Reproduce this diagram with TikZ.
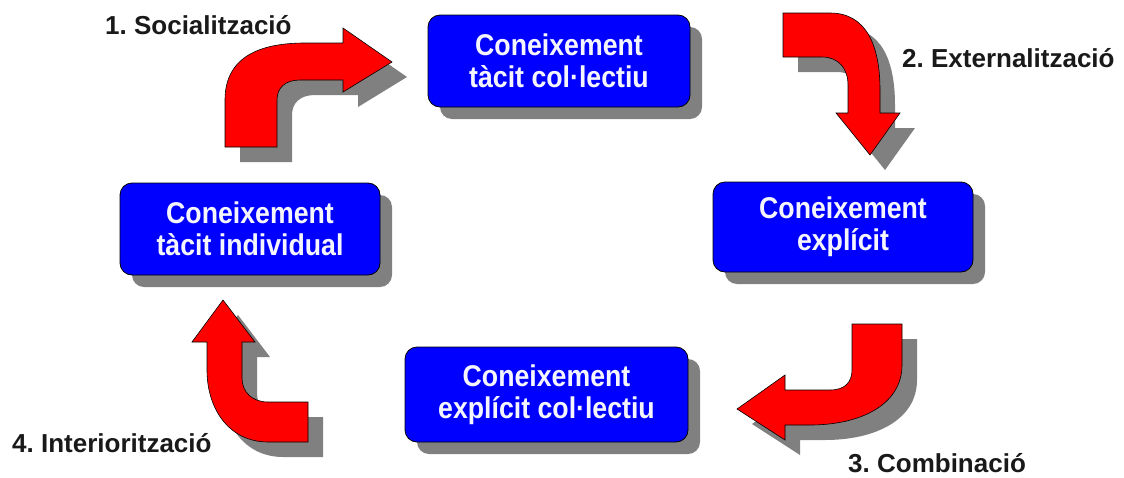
\documentclass[tikz,border=0pt]{standalone}
\usepackage{fontspec}
\setmainfont{Liberation Sans}
\newfontfamily\boxfont[FakeStretch=0.89]{Liberation Sans}
\usetikzlibrary{shadows}
\frenchspacing
\definecolor{boxblue}{RGB}{0,0,255}
\definecolor{arrred}{RGB}{255,0,0}
\definecolor{shgray}{RGB}{128,128,128}
\definecolor{boxtext}{RGB}{245,245,255}
\newcommand{\arrowSoc}{(225,147) -- (225,100) .. controls (225,58) and (258,43) .. (305,43) -- (343,43) -- (343,28) -- (392,62) -- (343,92) -- (343,80) -- (300,80) .. controls (285,80) and (277,88) .. (277,100) -- (277,147) -- cycle}
\newcommand{\arrowExt}{(783,13) -- (830,13) .. controls (866,13) and (880,45) .. (880,90) -- (880,113) -- (900,113) -- (870,155) -- (836,113) -- (848,113) -- (848,85) .. controls (848,68) and (838,57) .. (822,57) -- (783,57) -- cycle}
\newcommand{\arrowCom}{(852,324) -- (902,324) -- (902,365) .. controls (902,405) and (860,425) .. (810,425) -- (785,425) -- (785,440) -- (737,409) -- (785,375) -- (785,390) -- (830,390) .. controls (845,390) and (852,382) .. (852,370) -- cycle}
\newcommand{\arrowInt}{(223,300) -- (255,342) -- (242,342) -- (242,378) .. controls (242,392) and (252,402) .. (268,402) -- (308,402) -- (308,442) -- (268,442) .. controls (230,442) and (207,410) .. (207,370) -- (207,342) -- (192,342) -- cycle}
\tikzset{
  kbox/.style={draw=black, line width=0.8pt, fill=boxblue, rounded corners=12pt,
    inner sep=0pt, align=center, text=boxtext,
    font=\boxfont\bfseries\fontsize{30}{32}\selectfont,
    drop shadow={shadow xshift=12pt, shadow yshift=-12pt, fill=shgray, opacity=1}},
  redarrow/.style={fill=arrred, draw=black, line width=0.6pt, line join=miter},
  arrshadow/.style={fill=shgray, shift={(15,15)}},
  lbl/.style={font=\bfseries\fontsize{26}{30}\selectfont, text=black!90, inner sep=0pt, anchor=base west}
}
\begin{document}
\begin{tikzpicture}[x=1pt, y=-1pt]
\useasboundingbox (0,0) rectangle (1124,477);
% arrows
\fill[arrshadow] \arrowSoc;
\filldraw[redarrow] \arrowSoc;
\fill[arrshadow] \arrowExt;
\filldraw[redarrow] \arrowExt;
\fill[arrshadow] \arrowCom;
\filldraw[redarrow] \arrowCom;
\fill[arrshadow] \arrowInt;
\filldraw[redarrow] \arrowInt;
% boxes
\node[kbox, minimum width=262pt, minimum height=92pt] (tc) at (559,61) {Coneixement\\tàcit col·lectiu};
\node[kbox, minimum width=260pt, minimum height=92pt] (ti) at (250,229) {Coneixement\\tàcit individual};
\node[kbox, minimum width=260pt, minimum height=90pt] (ex) at (843,227) {Coneixement\\explícit};
\node[kbox, minimum width=283pt, minimum height=95pt] (ec) at (546.5,394.5) {Coneixement\\explícit col·lectiu};
% labels
\node[lbl] (l1) at (105,34) {1. Socialització};
\node[lbl] (l2) at (902,67) {2. Externalització};
\node[lbl] (l3) at (848,472) {3. Combinació};
\node[lbl] (l4) at (12,452) {4. Interiorització};
\end{tikzpicture}
\end{document}
